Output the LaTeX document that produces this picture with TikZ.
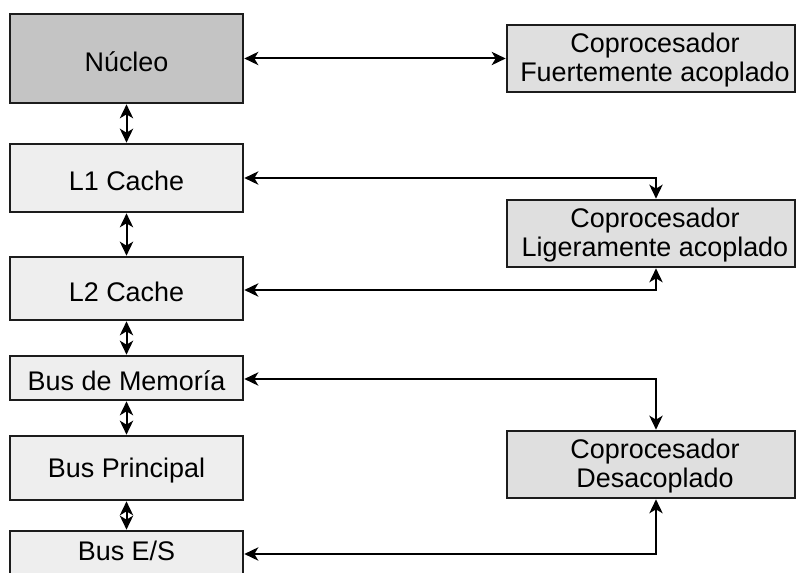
\documentclass[tikz,border=0pt]{standalone}
\usepackage{fontspec}
\setmainfont{Liberation Sans}
\usetikzlibrary{arrows.meta}

\definecolor{corefill}{HTML}{C4C4C4}
\definecolor{lightfill}{HTML}{EEEEEE}
\definecolor{cofill}{HTML}{DFDFDF}
\definecolor{edge}{HTML}{1C1C1C}

\tikzset{
  unitbox/.style={draw=edge, line width=2pt, rectangle, inner sep=0pt,
    minimum width=174.75pt, font=\fontsize{20.2}{21.75}\selectfont,
    text height=19pt, text depth=0pt},
  cobox/.style={draw=edge, fill=cofill, line width=2pt, rectangle,
    inner sep=0pt, minimum width=216pt, minimum height=50.25pt},
  cotext/.style={inner sep=0pt, align=center,
    font=\fontsize{20.2}{21.75}\selectfont},
  tip/.tip={Stealth[length=10.5pt,width=10pt,inset=3pt]},
  link/.style={draw=black, line width=1.5pt, tip-tip}
}

\begin{document}
\begin{tikzpicture}[x=0.75pt,y=-0.75pt]
  \useasboundingbox (0,0) rectangle (797,573);
  \clip (0,0) rectangle (797,573);

  % processor hierarchy (left column)
  \node[unitbox, fill=corefill,  minimum height=66.75pt] (nuc)  at (126.5,58.5) {Núcleo};
  \node[unitbox, fill=lightfill, minimum height=51pt]    (l1)   at (126.5,178)  {L1 Cache};
  \node[unitbox, fill=lightfill, minimum height=47.25pt] (l2)   at (126.5,288.5){L2 Cache};
  \node[unitbox, fill=lightfill, minimum height=33pt]    (mem)  at (126.5,378)  {Bus de Memoría};
  \node[unitbox, fill=lightfill, minimum height=48pt, text height=13.75pt] (prin) at (126.5,468) {Bus Principal};
  \node[unitbox, fill=lightfill, minimum height=34.5pt, text height=9.25pt] (es) at (126.5,554) {Bus E/S};

  % coprocessors (right column)
  \node[cobox] (cf)  at (651,58.5)  {};
  \node[cobox] (lig) at (651,233.5) {};
  \node[cobox] (des) at (651,464.5) {};
  \node[cotext] (cftxt)  at (655,60)  {Coprocesador\\Fuertemente acoplado};
  \node[cotext] (ligtxt) at (655,235) {Coprocesador\\Ligeramente acoplado};
  \node[cotext] (destxt) at (655,466) {Coprocesador\\Desacoplado};

  % drop column for the coprocessor links
  \coordinate (tap) at (656,0);

  % vertical links between levels
  \draw[link] (nuc.south) -- (l1.north);
  \draw[link] (l1.south) -- (l2.north);
  \draw[link] (l2.south) -- (mem.north);
  \draw[link] (mem.south) -- (prin.north);
  \draw[link] (prin.south) -- (es.north);

  % links to the coprocessors
  \draw[link] (nuc.east) -- (cf.west);
  \draw[link] (l1.east) -| (tap |- lig.north);
  \draw[link] (l2.east |- 0,290) -| (tap |- lig.south);
  \draw[link] (mem.east |- 0,379) -| (tap |- des.north);
  \draw[link] (es.east) -| (tap |- des.south);
\end{tikzpicture}
\end{document}
